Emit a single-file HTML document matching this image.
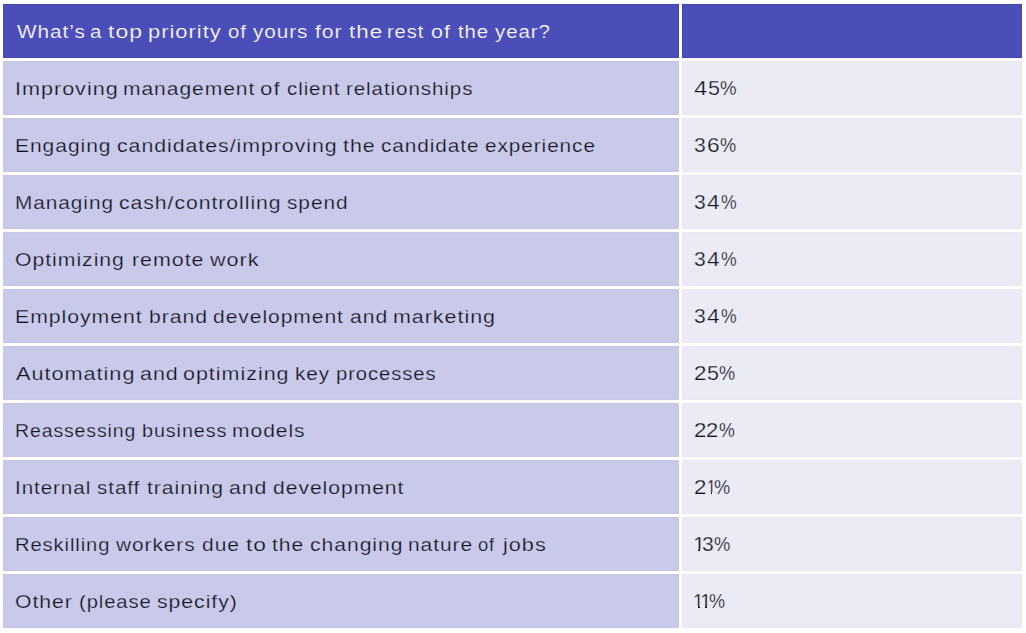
<!DOCTYPE html>
<html><head><meta charset="utf-8">
<title>Top priorities for the rest of the year</title>
<style>
html,body{margin:0;padding:0;background:#fff;}
body{width:1026px;height:633px;position:relative;overflow:hidden;font-family:"Liberation Sans",Arial,sans-serif;}
.c{position:absolute;height:54px;box-sizing:border-box;}
.l{left:3px;width:676px;}
.r{left:682px;width:340px;}
.h{background:#4b4db8;border:1px solid #4547b5;}
.a{background:#c9cae9;border:1px solid #c4c5e7;}
.b{background:#ebebf6;border:1px solid #e8e8f5;}
.w,.g{position:absolute;top:17px;line-height:1;font-size:19.2px;white-space:nowrap;color:#141420;transform-origin:0 0;}
.w{letter-spacing:0.87px;}
.g{font-size:19.5px;}
.h .w{color:#fff;-webkit-text-stroke:0.2px #4b4db8;}
.a .w{-webkit-text-stroke:0.25px #c9cae9;}
.b .g{-webkit-text-stroke:0.25px #ebebf6;}
.m{position:absolute;top:31.2px;height:2.3px;background:#ebebf6;}
</style></head><body>
<div class="c l h" style="top:4px"><span class="w" style="left:12.53px;transform:scaleX(1.083)">What’s</span> <span class="w" style="left:86.10px;transform:scaleX(1.070)">a</span> <span class="w" style="left:104.10px;transform:scaleX(1.196)">top</span> <span class="w" style="left:143.97px;transform:scaleX(1.142)">priority</span> <span class="w" style="left:223.51px;transform:scaleX(1.058)">of</span> <span class="w" style="left:249.33px;transform:scaleX(1.077)">yours</span> <span class="w" style="left:310.72px;transform:scaleX(1.102)">for</span> <span class="w" style="left:344.71px;transform:scaleX(1.163)">the</span> <span class="w" style="left:383.49px;transform:scaleX(1.047)">rest</span> <span class="w" style="left:426.86px;transform:scaleX(1.120)">of</span> <span class="w" style="left:453.73px;transform:scaleX(1.061)">the</span> <span class="w" style="left:490.73px;transform:scaleX(1.069)">year?</span></div>
<div class="c r h" style="top:4px"></div>
<div class="c l a" style="top:61px"><span class="w" style="left:11.03px;transform:scaleX(1.126)">Improving</span> <span class="w" style="left:119.23px;transform:scaleX(1.096)">management</span> <span class="w" style="left:256.13px;transform:scaleX(1.163)">of</span> <span class="w" style="left:283.20px;transform:scaleX(1.067)">client</span> <span class="w" style="left:342.26px;transform:scaleX(1.070)">relationships</span></div>
<div class="c r b" style="top:61px"><span class="g" style="left:11.35px;transform:scaleX(1.221)">4</span><span class="g" style="left:25.14px;transform:scaleX(1.103)">5</span><span class="g" style="left:37.34px;transform:scaleX(0.953)">%</span></div>
<div class="c l a" style="top:118px"><span class="w" style="left:11.36px;transform:scaleX(1.095)">Engaging</span> <span class="w" style="left:112.77px;transform:scaleX(1.110)">candidates/improving</span> <span class="w" style="left:338.72px;transform:scaleX(1.116)">the</span> <span class="w" style="left:376.69px;transform:scaleX(1.081)">candidate</span> <span class="w" style="left:480.59px;transform:scaleX(1.081)">experience</span></div>
<div class="c r b" style="top:118px"><span class="g" style="left:11.40px;transform:scaleX(1.082)">3</span><span class="g" style="left:23.64px;transform:scaleX(1.167)">6</span><span class="g" style="left:37.05px;transform:scaleX(0.934)">%</span></div>
<div class="c l a" style="top:175px"><span class="w" style="left:10.87px;transform:scaleX(1.085)">Managing</span> <span class="w" style="left:114.67px;transform:scaleX(1.104)">cash/controlling</span> <span class="w" style="left:283.16px;transform:scaleX(1.087)">spend</span></div>
<div class="c r b" style="top:175px"><span class="g" style="left:11.40px;transform:scaleX(1.082)">3</span><span class="g" style="left:24.28px;transform:scaleX(1.160)">4</span><span class="g" style="left:37.87px;transform:scaleX(0.903)">%</span></div>
<div class="c l a" style="top:232px"><span class="w" style="left:11.19px;transform:scaleX(1.106)">Optimizing</span> <span class="w" style="left:127.50px;transform:scaleX(1.116)">remote</span> <span class="w" style="left:206.20px;transform:scaleX(1.123)">work</span></div>
<div class="c r b" style="top:232px"><span class="g" style="left:11.40px;transform:scaleX(1.082)">3</span><span class="g" style="left:24.28px;transform:scaleX(1.160)">4</span><span class="g" style="left:37.87px;transform:scaleX(0.903)">%</span></div>
<div class="c l a" style="top:289px"><span class="w" style="left:11.14px;transform:scaleX(1.107)">Employment</span> <span class="w" style="left:144.72px;transform:scaleX(1.106)">brand</span> <span class="w" style="left:208.68px;transform:scaleX(1.096)">development</span> <span class="w" style="left:346.27px;transform:scaleX(1.102)">and</span> <span class="w" style="left:388.80px;transform:scaleX(1.118)">marketing</span></div>
<div class="c r b" style="top:289px"><span class="g" style="left:11.40px;transform:scaleX(1.082)">3</span><span class="g" style="left:24.28px;transform:scaleX(1.160)">4</span><span class="g" style="left:37.87px;transform:scaleX(0.903)">%</span></div>
<div class="c l a" style="top:346px"><span class="w" style="left:12.20px;transform:scaleX(1.129)">Automating</span> <span class="w" style="left:136.16px;transform:scaleX(1.118)">and</span> <span class="w" style="left:179.46px;transform:scaleX(1.120)">optimizing</span> <span class="w" style="left:291.15px;transform:scaleX(1.078)">key</span> <span class="w" style="left:331.88px;transform:scaleX(1.054)">processes</span></div>
<div class="c r b" style="top:346px"><span class="g" style="left:10.87px;transform:scaleX(1.148)">2</span><span class="g" style="left:23.64px;transform:scaleX(1.103)">5</span><span class="g" style="left:36.15px;transform:scaleX(0.934)">%</span></div>
<div class="c l a" style="top:403px"><span class="w" style="left:11.28px;transform:scaleX(1.015)">Reassessing</span> <span class="w" style="left:137.71px;transform:scaleX(1.032)">business</span> <span class="w" style="left:228.33px;transform:scaleX(1.097)">models</span></div>
<div class="c r b" style="top:403px"><span class="g" style="left:10.87px;transform:scaleX(1.148)">2</span><span class="g" style="left:23.10px;transform:scaleX(1.126)">2</span><span class="g" style="left:35.86px;transform:scaleX(0.915)">%</span></div>
<div class="c l a" style="top:460px"><span class="w" style="left:11.42px;transform:scaleX(1.073)">Internal</span> <span class="w" style="left:93.16px;transform:scaleX(1.074)">staff</span> <span class="w" style="left:143.42px;transform:scaleX(1.102)">training</span> <span class="w" style="left:225.37px;transform:scaleX(1.109)">and</span> <span class="w" style="left:268.68px;transform:scaleX(1.100)">development</span></div>
<div class="c r b" style="top:460px"><span class="g" style="left:10.87px;transform:scaleX(1.148)">2</span><span class="g" style="left:23.90px;transform:scaleX(0.800)">1</span><i class="m" style="left:24.49px;width:3.33px"></i><i class="m" style="left:29.20px;width:3.21px"></i><span class="g" style="left:31.15px;transform:scaleX(0.934)">%</span></div>
<div class="c l a" style="top:517px"><span class="w" style="left:11.23px;transform:scaleX(1.049)">Reskilling</span> <span class="w" style="left:112.40px;transform:scaleX(1.086)">workers</span> <span class="w" style="left:197.58px;transform:scaleX(1.095)">due</span> <span class="w" style="left:241.50px;transform:scaleX(1.187)">to</span> <span class="w" style="left:268.32px;transform:scaleX(1.101)">the</span> <span class="w" style="left:305.87px;transform:scaleX(1.101)">changing</span> <span class="w" style="left:403.63px;transform:scaleX(1.093)">nature</span> <span class="w" style="left:474.38px;transform:scaleX(0.960)">of</span> <span class="w" style="left:499.37px;transform:scaleX(1.131)">jobs</span></div>
<div class="c r b" style="top:517px"><span class="g" style="left:9.51px;transform:scaleX(1.116)">1</span><i class="m" style="left:10.56px;width:4.41px"></i><i class="m" style="left:16.90px;width:4.24px"></i><span class="g" style="left:18.70px;transform:scaleX(1.082)">3</span><span class="g" style="left:31.35px;transform:scaleX(0.941)">%</span></div>
<div class="c l a" style="top:574px"><span class="w" style="left:11.40px;transform:scaleX(1.104)">Other</span> <span class="w" style="left:74.88px;transform:scaleX(1.053)">(please</span> <span class="w" style="left:153.25px;transform:scaleX(1.106)">specify)</span></div>
<div class="c r b" style="top:574px"><span class="g" style="left:10.18px;transform:scaleX(0.968)">1</span><i class="m" style="left:11.02px;width:3.91px"></i><i class="m" style="left:16.60px;width:3.76px"></i><span class="g" style="left:17.03px;transform:scaleX(1.052)">1</span><i class="m" style="left:17.99px;width:4.20px"></i><i class="m" style="left:24.00px;width:4.04px"></i><span class="g" style="left:26.35px;transform:scaleX(0.928)">%</span></div>
</body></html>
